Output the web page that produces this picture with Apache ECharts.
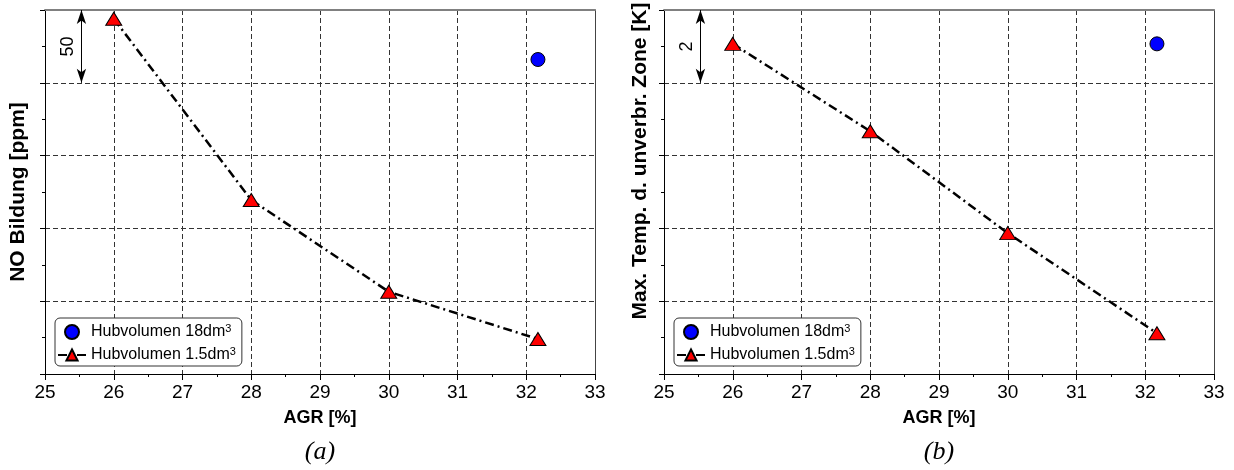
<!DOCTYPE html>
<html>
<head>
<meta charset="utf-8">
<script src="https://cdn.jsdelivr.net/npm/echarts@6/dist/echarts.min.js"></script>
<style>
  html, body { margin: 0; padding: 0; background: #fff; }
  #chart { width: 1234px; height: 470px; }
</style>
</head>
<body>
<div id="chart"></div>
<script>
// EGR rate [%] of the measured operating points
const agr = [26, 28, 30, 32.17];

// (a) NO formation [ppm] for the 1.5 dm3 engine, and the 18 dm3 reference point
const noSmall = [244, 119.5, 56.5, 24];
const noLarge = [[32.17, 216]];

// (b) max. temperature of the unburnt zone [K]
const tempSmall = [9.07, 6.67, 3.87, 1.12];
const tempLarge = [[32.17, 9.07]];

// axis ranges and the scale bar shown instead of y tick labels
const xTicks = { min: 25, max: 33, interval: 1 };
const yRangeA = { min: 0, max: 250, interval: 50 };
const yRangeB = { min: 0, max: 10, interval: 2 };
const scaleBarA = { x: 25.53, from: 200, to: 250, text: '50' };
const scaleBarB = { x: 25.53, from: 8, to: 10, text: '2' };

const nameLarge = 'Hubvolumen 18dm3';
const nameSmall = 'Hubvolumen 1.5dm3';
const legendLabels = {};
legendLabels[nameLarge] = 'Hubvolumen 18dm{sup|3}';
legendLabels[nameSmall] = 'Hubvolumen 1.5dm{sup|3}';

const FONT = 'Liberation Sans, Arial, sans-serif';
const GRID_W = 550, GRID_TOP = 10, GRID_H = 364;
const grids = [{ left: 45 }, { left: 664 }];

function xAxes(gi) {
  return [
    {
      type: 'value', gridIndex: gi, position: 'bottom',
      min: xTicks.min, max: xTicks.max, interval: xTicks.interval,
      name: 'AGR [%]', nameLocation: 'middle', nameGap: 35,
      nameTextStyle: { fontFamily: FONT, fontWeight: 'bold', fontSize: 18, color: '#000' },
      axisLine: { lineStyle: { color: '#000', width: 1 } },
      axisTick: { show: true, length: 6, lineStyle: { color: '#000' } },
      minorTick: { show: true, splitNumber: 2, length: 3, lineStyle: { color: '#000' } },
      axisLabel: { margin: 9, fontFamily: FONT, fontSize: 19, color: '#000' },
      splitLine: { show: true, lineStyle: { color: '#333', type: [5, 3], width: 1 } }
    },
    {
      type: 'value', gridIndex: gi, position: 'top', min: 0, max: 1,
      axisLine: { show: true, onZero: false, lineStyle: { color: '#808080', width: 2 } },
      axisTick: { show: false }, axisLabel: { show: false }, splitLine: { show: false }
    }
  ];
}

function yAxes(gi, range, title, gap, shift) {
  return [
    {
      type: 'value', gridIndex: gi, position: 'left',
      min: range.min, max: range.max, interval: range.interval,
      name: title, nameLocation: 'middle', nameGap: gap,
      nameTextStyle: {
        fontFamily: FONT, fontWeight: 'bold', fontSize: 21, color: '#000',
        padding: [0, 0, 0, shift]
      },
      axisLine: { show: true, onZero: false, lineStyle: { color: '#000', width: 1 } },
      axisTick: { show: true, length: 5, lineStyle: { color: '#000' } },
      minorTick: { show: true, splitNumber: 2, length: 3, lineStyle: { color: '#000' } },
      axisLabel: { show: false },
      splitLine: { show: true, lineStyle: { color: '#333', type: [5, 3], width: 1 } }
    },
    {
      type: 'value', gridIndex: gi, position: 'right', min: 0, max: 1,
      axisLine: { show: true, onZero: false, lineStyle: { color: '#444', width: 1 } },
      axisTick: { show: false }, axisLabel: { show: false }, splitLine: { show: false }
    }
  ];
}

function scaleBar(bar) {
  return {
    silent: true,
    symbol: ['arrow', 'arrow'],
    symbolSize: [7, 14],
    lineStyle: { color: '#000', type: 'solid', width: 1 },
    label: {
      show: true, position: 'insideMiddleTop', distance: 4,
      formatter: bar.text, fontFamily: FONT, fontSize: 18, color: '#000'
    },
    data: [[{ coord: [bar.x, bar.from] }, { coord: [bar.x, bar.to] }]]
  };
}

function seriesFor(gi, largePts, smallVals, bar) {
  return [
    {
      name: nameLarge, type: 'scatter', xAxisIndex: gi * 2, yAxisIndex: gi * 2,
      data: largePts, symbol: 'circle', symbolSize: 14,
      itemStyle: { color: '#0000ff', opacity: 1, borderColor: '#000', borderWidth: 1 }, z: 4
    },
    {
      name: nameSmall, type: 'line', xAxisIndex: gi * 2, yAxisIndex: gi * 2,
      data: agr.map((x, i) => [x, smallVals[i]]),
      symbol: 'triangle', symbolSize: [16, 13], showSymbol: true,
      itemStyle: { color: '#ff0000', opacity: 1, borderColor: '#000', borderWidth: 1 },
      lineStyle: { color: '#000', width: 2.5, type: [9, 4, 2, 4] },
      z: 3,
      markLine: scaleBar(bar)
    }
  ];
}

function legendFor(left) {
  return {
    orient: 'vertical', left: left, top: 318,
    data: [nameLarge, nameSmall],
    itemWidth: 28, itemHeight: 14, itemGap: 6,
    padding: [5, 6, 3, 2],
    borderColor: '#333', borderWidth: 1, borderRadius: 5,
    backgroundColor: '#fff',
    selectedMode: false,
    formatter: name => legendLabels[name],
    textStyle: {
      fontFamily: FONT, fontSize: 16, color: '#000',
      rich: { sup: { fontFamily: FONT, fontSize: 11, verticalAlign: 'top', lineHeight: 18 } }
    }
  };
}

const chart = echarts.init(document.getElementById('chart'), null, { renderer: 'canvas' });
chart.setOption({
  animation: false,
  backgroundColor: '#fff',
  grid: grids.map(g => ({ left: g.left, top: GRID_TOP, width: GRID_W, height: GRID_H, containLabel: false })),
  xAxis: [...xAxes(0), ...xAxes(1)],
  yAxis: [
    ...yAxes(0, yRangeA, 'NO Bildung [ppm]', 16, 0),
    ...yAxes(1, yRangeB, 'Max. Temp. d. unverbr. Zone [K]', 13, 62)
  ],
  legend: [legendFor(55), legendFor(674)],
  series: [
    ...seriesFor(0, noLarge, noSmall, scaleBarA),
    ...seriesFor(1, tempLarge, tempSmall, scaleBarB)
  ],
  graphic: [
    { type: 'text', x: 320, y: 452, style: { text: '(a)', font: 'italic 26px "Liberation Serif", "Times New Roman", serif', fill: '#000', align: 'center', verticalAlign: 'middle' } },
    { type: 'text', x: 939, y: 452, style: { text: '(b)', font: 'italic 26px "Liberation Serif", "Times New Roman", serif', fill: '#000', align: 'center', verticalAlign: 'middle' } }
  ]
});
</script>
</body>
</html>
